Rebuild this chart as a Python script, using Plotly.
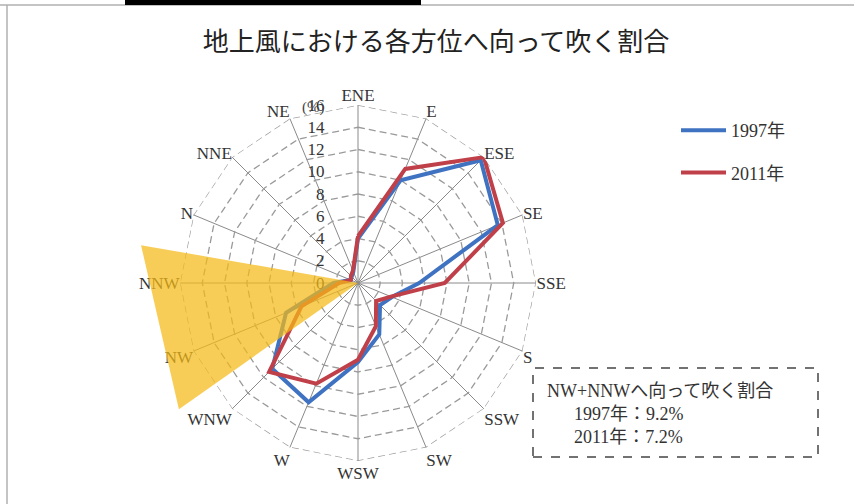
import plotly.graph_objects as go

# ---- data ----
directions = ["ENE", "E", "ESE", "SE", "SSE", "S", "SSW", "SW",
              "WSW", "W", "WNW", "NW", "NNW", "N", "NNE", "NE"]
y1997 = [4.0, 10.0, 15.6, 13.6, 5.5, 3.3, 2.8, 5.0,
         7.1, 11.6, 10.9, 7.0, 2.2, 0.7, 0.8, 1.1]
y2011 = [4.2, 11.1, 16.0, 14.1, 7.8, 3.2, 2.3, 4.2,
         6.9, 9.8, 11.3, 5.5, 1.7, 0.7, 0.9, 1.2]
series_names = ["1997年", "2011年"]
radial_ticks = [0, 2, 4, 6, 8, 10, 12, 14, 16]
# highlighted NW+NNW wedge (radius in %, angle in degrees clockwise from ENE)
highlight_r = [0, 19.8, 19.7, 0]
highlight_theta = [257.5, 279.9, 234.8, 257.5]
box_title = "NW+NNWへ向って吹く割合"
box_lines = ["1997年：9.2%", "2011年：7.2%"]
chart_title = "地上風における各方位へ向って吹く割合"

W, H = 854, 504
def px(x):
    return x / W
def py(y):
    return 1 - y / H

cx, cy, R = 358, 283, 178
RMAX = 16
dom_x = [px(cx - R), px(cx + R)]
dom_y = [py(cy + R), py(cy - R)]
# overlay subplot for the highlight wedge, same scale but larger extent
RMAX2 = 19.86
R2 = R * RMAX2 / RMAX
dom2_x = [px(cx - R2), px(cx + R2)]
dom2_y = [max(0, py(cy + R2)), py(cy - R2)]

SERIF = "Liberation Serif, Noto Sans CJK JP, serif"
BLUE = "#3F73C2"
RED = "#C0404A"
GRID = "#9a9a9a"

fig = go.Figure()
# polygon (dashed) radial grid
for t in radial_ticks[1:]:
    fig.add_trace(go.Scatterpolar(
        r=[t] * (len(directions) + 1), theta=directions + [directions[0]],
        mode="lines", line=dict(color=GRID, width=1.3, dash="7px,4px"),
        subplot="polar", showlegend=False, hoverinfo="skip", cliponaxis=False))
fig.add_trace(go.Scatterpolar(
    r=y1997 + [y1997[0]], theta=directions + [directions[0]],
    mode="lines", line=dict(color=BLUE, width=4), name=series_names[0],
    subplot="polar", legendgroup="a", cliponaxis=False))
fig.add_trace(go.Scatterpolar(
    r=y2011 + [y2011[0]], theta=directions + [directions[0]],
    mode="lines", line=dict(color=RED, width=4), name=series_names[1],
    subplot="polar", legendgroup="b", cliponaxis=False))
fig.add_trace(go.Scatterpolar(
    r=highlight_r, theta=highlight_theta, mode="lines", fill="toself",
    fillcolor="rgba(245,186,22,0.72)", line=dict(width=0, color="rgba(0,0,0,0)"),
    subplot="polar2", showlegend=False, hoverinfo="skip"))

fig.update_layout(
    width=W, height=H,
    margin=dict(l=0, r=0, t=0, b=0),
    paper_bgcolor="white",
    title=dict(text=chart_title, x=px(436), y=py(42), xanchor="center", yanchor="middle",
               font=dict(family="Noto Sans CJK JP", size=26, color="#222")),
    polar=dict(
        domain=dict(x=dom_x, y=dom_y),
        bgcolor="white",
        gridshape="linear",
        angularaxis=dict(
            type="category", categoryorder="array", categoryarray=directions,
            rotation=90, direction="clockwise",
            showgrid=True, gridcolor="#8a8a8a", gridwidth=1,
            showline=False, ticks="",
            tickfont=dict(family=SERIF, size=17, color="#333")),
        radialaxis=dict(
            range=[0, RMAX], tickvals=radial_ticks, angle=90, side="counterclockwise",
            showline=False, showgrid=False, tickangle=90,
            ticks="outside", ticklen=27, tickcolor="rgba(0,0,0,0)",
            tickfont=dict(family=SERIF, size=17, color="#333")),
    ),
    polar2=dict(
        domain=dict(x=dom2_x, y=dom2_y),
        bgcolor="rgba(0,0,0,0)",
        angularaxis=dict(rotation=90, direction="clockwise", visible=False, showgrid=False),
        radialaxis=dict(range=[0, RMAX2], visible=False, showgrid=False),
    ),
    legend=dict(x=px(676), y=py(112), xanchor="left", yanchor="top",
                font=dict(family=SERIF, size=18, color="#333"),
                itemwidth=45,
                tracegroupgap=16, bgcolor="rgba(0,0,0,0)"),
    shapes=[
        dict(type="line", xref="paper", yref="paper", x0=0, x1=1, y0=py(5), y1=py(5),
             line=dict(color="#b0b0b0", width=1.5)),
        dict(type="line", xref="paper", yref="paper", x0=px(7), x1=px(7), y0=0, y1=py(5),
             line=dict(color="#b0b0b0", width=1.5)),
        dict(type="rect", xref="paper", yref="paper", x0=px(125), x1=px(421), y0=py(5), y1=1,
             fillcolor="black", line=dict(width=0)),
        dict(type="rect", xref="paper", yref="paper", x0=px(533), x1=px(818), y0=py(457), y1=py(368),
             line=dict(color="#444", width=1.5, dash="dash")),
    ],
    annotations=[
        dict(text="(%)", x=px(313), y=py(97), xref="paper", yref="paper", showarrow=False,
             font=dict(family=SERIF, size=15, color="#444")),
        dict(text=box_title, x=px(545), y=py(391), xref="paper", yref="paper", showarrow=False,
             xanchor="left", yanchor="middle", font=dict(family=SERIF, size=18, color="#333")),
        dict(text=box_lines[0], x=px(572), y=py(414), xref="paper", yref="paper", showarrow=False,
             xanchor="left", yanchor="middle", font=dict(family=SERIF, size=18, color="#333")),
        dict(text=box_lines[1], x=px(572), y=py(437), xref="paper", yref="paper", showarrow=False,
             xanchor="left", yanchor="middle", font=dict(family=SERIF, size=18, color="#333")),
    ],
)

fig.write_html("out.html")
